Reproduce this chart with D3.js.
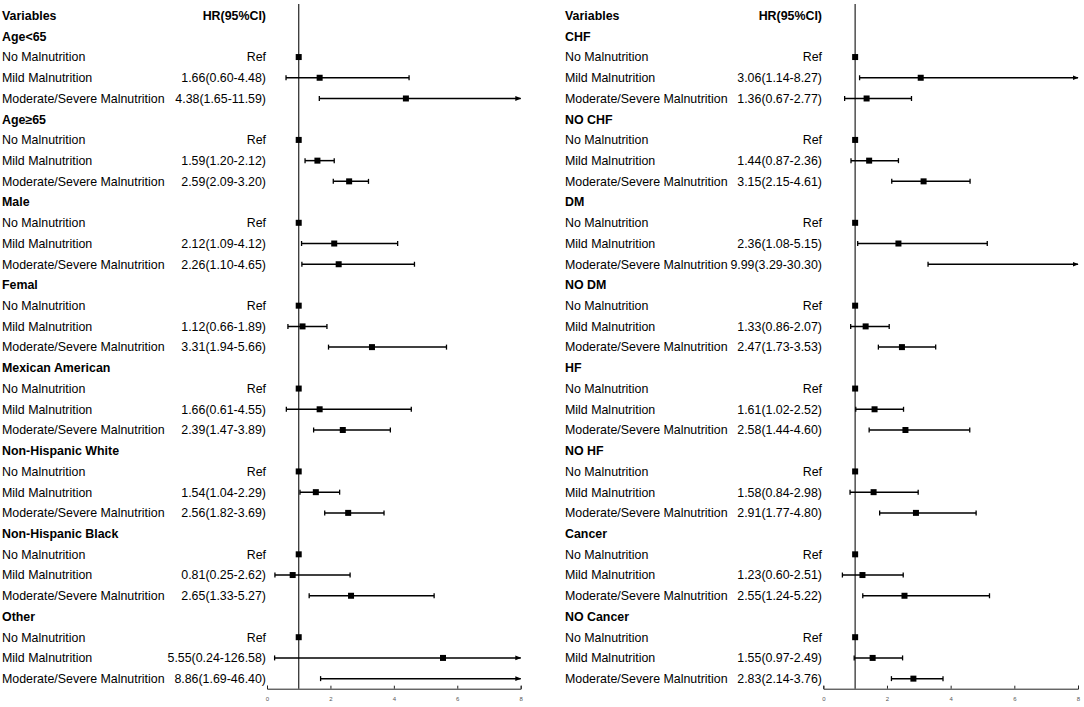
<!DOCTYPE html>
<html>
<head>
<meta charset="utf-8">
<script src="https://cdn.jsdelivr.net/npm/d3@7"></script>
<style>
  body { margin: 0; background: #fff; }
  svg { display: block; font-family: "Liberation Sans", Arial, sans-serif; }
</style>
</head>
<body>
<svg id="chart" width="1084" height="707"></svg>
<script>
// subgroups, one block of three rows each
const left_groups = ["Age<65", "Age\u226565", "Male", "Femal", "Mexican American",
  "Non-Hispanic White", "Non-Hispanic Black", "Other"];
const right_groups = ["CHF", "NO CHF", "DM", "NO DM", "HF", "NO HF", "Cancer", "NO Cancer"];
const levels = ["No Malnutrition", "Mild Malnutrition", "Moderate/Severe Malnutrition"];

// [hr, lower, upper] for mild and moderate/severe, per group
const left_mild = [[1.66, 0.60, 4.48], [1.59, 1.20, 2.12], [2.12, 1.09, 4.12], [1.12, 0.66, 1.89],
  [1.66, 0.61, 4.55], [1.54, 1.04, 2.29], [0.81, 0.25, 2.62], [5.55, 0.24, 126.58]];
const left_severe = [[4.38, 1.65, 11.59], [2.59, 2.09, 3.20], [2.26, 1.10, 4.65], [3.31, 1.94, 5.66],
  [2.39, 1.47, 3.89], [2.56, 1.82, 3.69], [2.65, 1.33, 5.27], [8.86, 1.69, 46.40]];
const right_mild = [[3.06, 1.14, 8.27], [1.44, 0.87, 2.36], [2.36, 1.08, 5.15], [1.33, 0.86, 2.07],
  [1.61, 1.02, 2.52], [1.58, 0.84, 2.98], [1.23, 0.60, 2.51], [1.55, 0.97, 2.49]];
const right_severe = [[1.36, 0.67, 2.77], [3.15, 2.15, 4.61], [9.99, 3.29, 30.30], [2.47, 1.73, 3.53],
  [2.58, 1.44, 4.60], [2.91, 1.77, 4.80], [2.55, 1.24, 5.22], [2.83, 2.14, 3.76]];

const x_ticks = [0, 2, 4, 6, 8];

const svg = d3.select("#chart");
const font_size = "12.4px";
const row_y = i => 15.6 + i * 20.72;
const axis_y = 688.7;

// arrow marker for CIs cut at the axis end
svg.append("defs").append("marker")
  .attr("id", "arrow")
  .attr("viewBox", "0 0 10 10")
  .attr("refX", 9).attr("refY", 5)
  .attr("markerWidth", 4).attr("markerHeight", 4)
  .attr("markerUnits", "strokeWidth")
  .attr("orient", "auto")
  .append("path").attr("d", "M0,1L10,5L0,9Z").attr("fill", "#000");

function fmt(v){ return v.toFixed(2); }

function build_rows(groups, mild, severe){
  let rows = [];
  groups.forEach((g, i) => {
    rows.push({label: g, bold: true});
    rows.push({label: levels[0], hr: "Ref", est: [1, 1, 1], ref: true});
    rows.push({label: levels[1], hr: fmt(mild[i][0]) + "(" + fmt(mild[i][1]) + "-" + fmt(mild[i][2]) + ")", est: mild[i]});
    rows.push({label: levels[2], hr: fmt(severe[i][0]) + "(" + fmt(severe[i][1]) + "-" + fmt(severe[i][2]) + ")", est: severe[i]});
  });
  return rows;
}

function draw_panel(rows, label_x, hr_x, x0, x1){
  let g = svg.append("g");
  let x = d3.scaleLinear().domain([0, 8]).range([x0, x1]);

  // header
  g.append("text").attr("x", label_x).attr("y", row_y(0)).attr("dy", "0.35em")
    .attr("font-size", font_size).attr("font-weight", "bold").text("Variables");
  g.append("text").attr("x", hr_x).attr("y", row_y(0)).attr("dy", "0.35em")
    .attr("text-anchor", "end").attr("font-size", font_size).attr("font-weight", "bold").text("HR(95%CI)");

  // reference line at HR = 1
  g.append("line")
    .attr("x1", x(1)).attr("x2", x(1)).attr("y1", 4).attr("y2", axis_y)
    .attr("stroke", "#333").attr("stroke-width", 1.3);

  let row = g.selectAll("g.row").data(rows).enter().append("g")
    .attr("class", "row")
    .attr("transform", (d, i) => "translate(0," + row_y(i + 1) + ")");

  row.append("text").attr("x", label_x).attr("dy", "0.35em")
    .attr("font-size", font_size)
    .attr("font-weight", d => d.bold ? "bold" : null)
    .text(d => d.label);

  row.filter(d => d.hr).append("text").attr("x", hr_x).attr("dy", "0.35em")
    .attr("text-anchor", "end").attr("font-size", font_size)
    .text(d => d.hr);

  // confidence intervals
  let ci = row.filter(d => d.est && !d.ref);
  ci.append("line")
    .attr("x1", d => x(d.est[1]))
    .attr("x2", d => x(Math.min(d.est[2], 8)))
    .attr("stroke", "#000").attr("stroke-width", 1.5)
    .attr("marker-end", d => d.est[2] > 8 ? "url(#arrow)" : null);
  ci.append("line")
    .attr("x1", d => x(d.est[1])).attr("x2", d => x(d.est[1]))
    .attr("y1", -2.5).attr("y2", 2.5)
    .attr("stroke", "#000").attr("stroke-width", 1.3);
  ci.filter(d => d.est[2] <= 8).append("line")
    .attr("x1", d => x(d.est[2])).attr("x2", d => x(d.est[2]))
    .attr("y1", -2.5).attr("y2", 2.5)
    .attr("stroke", "#000").attr("stroke-width", 1.3);

  // point estimates
  row.filter(d => d.est && d.est[0] <= 8).append("rect")
    .attr("x", d => x(d.est[0]) - 3).attr("y", -3)
    .attr("width", 6).attr("height", 6)
    .attr("fill", "#000");

  // x axis
  let axis = g.append("g")
    .attr("transform", "translate(0," + axis_y + ")")
    .call(d3.axisTop(x).tickValues(x_ticks).tickSize(3).tickFormat(d3.format("d")));
  axis.select(".domain").attr("stroke", "#222").attr("stroke-width", 1);
  axis.selectAll(".tick line").attr("stroke", "#222");
  axis.selectAll(".tick text")
    .attr("y", 12).attr("dy", "0")
    .attr("font-size", "6px").attr("fill", "#555")
    .attr("font-family", "\"Liberation Sans\", Arial, sans-serif");
}

draw_panel(build_rows(left_groups, left_mild, left_severe), 2, 266, 267, 520.7);
draw_panel(build_rows(right_groups, right_mild, right_severe), 565, 822, 823.3, 1078);
</script>
</body>
</html>
